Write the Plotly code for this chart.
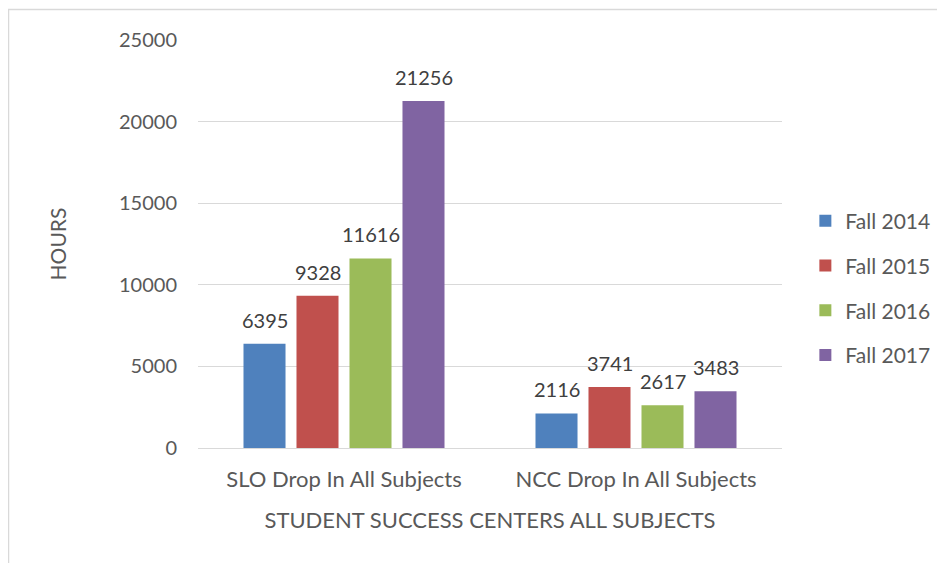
import plotly.graph_objects as go

categories = ["SLO Drop In All Subjects", "NCC Drop In All Subjects"]
series_names = ["Fall 2014", "Fall 2015", "Fall 2016", "Fall 2017"]
fall_2014 = [6395, 2116]
fall_2015 = [9328, 3741]
fall_2016 = [11616, 2617]
fall_2017 = [21256, 3483]
y_ticks = [0, 5000, 10000, 15000, 20000, 25000]
colors = ["#4F81BD", "#C0504D", "#9BBB59", "#8064A2"]

FONT = "Lato, 'Open Sans', sans-serif"
TXT = "#595959"
BARGAP = 0.274
BARGROUPGAP = 0.207

all_series = [fall_2014, fall_2015, fall_2016, fall_2017]

fig = go.Figure()
for name, vals, col in zip(series_names, all_series, colors):
    fig.add_trace(go.Bar(
        x=categories, y=vals, name=name, marker=dict(color=col, line=dict(width=0)),
        legendgroup=name,
    ))

# data labels placed above each bar
n = len(all_series)
slot = (1 - BARGAP) / n
annotations = []
for j, vals in enumerate(all_series):
    for i, v in enumerate(vals):
        annotations.append(dict(
            x=i + (j - (n - 1) / 2) * slot, y=v, xref="x", yref="y",
            text=str(v), showarrow=False, yanchor="bottom", yshift=10,
            font=dict(size=20, color="#404040", family=FONT),
        ))

fig.update_layout(
    width=945, height=563,
    margin=dict(l=190, r=171, t=32, b=123, autoexpand=False),
    paper_bgcolor="white", plot_bgcolor="white",
    barmode="group", bargap=BARGAP, bargroupgap=BARGROUPGAP,
    font=dict(family=FONT, size=20, color=TXT),
    showlegend=True,
    legend=dict(x=1.04, y=0.392, xanchor="left", yanchor="middle",
                font=dict(size=21, color=TXT, family=FONT),
                traceorder="grouped", tracegroupgap=14.5, itemwidth=30),
    xaxis=dict(showgrid=False, showline=True, linecolor="#d9d9d9", linewidth=1,
               ticks="", tickfont=dict(size=22, color=TXT), ticklabelstandoff=12,
               title=dict(text="STUDENT SUCCESS CENTERS ALL SUBJECTS", font=dict(size=22, color=TXT), standoff=21)),
    yaxis=dict(range=[0, 25000], tickvals=y_ticks, ticktext=[str(t) for t in y_ticks],
               showgrid=True, gridcolor="#d9d9d9", gridwidth=1, zeroline=False,
               showline=False, ticks="", ticklabelstandoff=20,
               tickfont=dict(size=20, color=TXT),
               title=dict(text="HOURS", font=dict(size=21, color=TXT), standoff=46)),
    annotations=annotations,
    shapes=[dict(type="rect", xref="paper", yref="paper", x0=-0.3245, y0=-0.5, x1=1.6, y1=1.0748,
                 line=dict(color="#d9d9d9", width=1.5), layer="below")],
)

fig.write_html("out.html")
